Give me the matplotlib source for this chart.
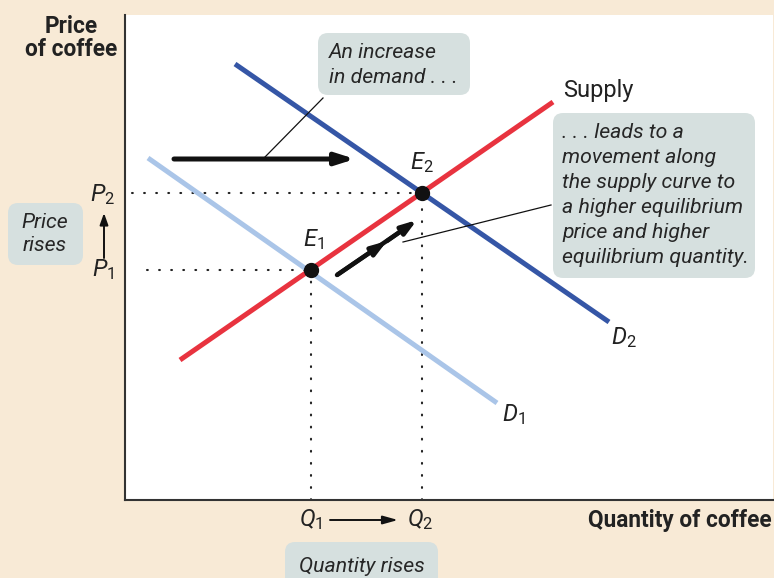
import matplotlib.pyplot as plt
from matplotlib.patches import FancyBboxPatch

plt.rcParams['font.family'] = ['Roboto', 'DejaVu Sans']
plt.rcParams['mathtext.fontset'] = 'custom'
plt.rcParams['mathtext.it'] = 'Roboto:italic'
plt.rcParams['mathtext.rm'] = 'Roboto'

# curves (x, y) end points, in plot units
supply_x = [55, 428]
supply_y = [140, 398]
d1_x = [23, 372]
d1_y = [342, 97]
d2_x = [110, 484]
d2_y = [436, 178]

# equilibria
e1 = (186, 230)
e2 = (297, 307)

# arrows
shift_from, shift_to = (49, 341), (230, 341)
move_start, move_mid, move_end = (212, 225), (262, 259), (292, 280)

bg = '#f8ead6'
box_col = '#d6e0df'
red = '#e8333f'
dark_blue = '#3556a6'
light_blue = '#aac5e8'

fig = plt.figure(figsize=(7.74, 5.78), dpi=100, facecolor=bg)
ax = fig.add_axes([125 / 774, 78 / 578, 648 / 774, 485 / 578])
ax.set_xlim(0, 648)
ax.set_ylim(0, 485)
ax.set_xticks([])
ax.set_yticks([])
for s in ['top', 'right']:
    ax.spines[s].set_visible(False)
for s in ['left', 'bottom']:
    ax.spines[s].set_linewidth(1.5)
    ax.spines[s].set_color('#333333')

# dotted guides
dot = dict(color='#222222', lw=1.5, linestyle=(0, (0.4, 5.4)), dash_capstyle='round')
ax.plot([7, e2[0]], [e2[1], e2[1]], **dot)
ax.plot([22, e1[0]], [e1[1], e1[1]], **dot)
ax.plot([e1[0], e1[0]], [0, e1[1]], **dot)
ax.plot([e2[0], e2[0]], [0, e2[1]], **dot)

ax.plot(d1_x, d1_y, color=light_blue, lw=3.6, solid_capstyle='butt')
ax.plot(d2_x, d2_y, color=dark_blue, lw=3.6, solid_capstyle='butt')
ax.plot(supply_x, supply_y, color=red, lw=3.6, solid_capstyle='butt')

ax.plot(*zip(e1, e2), 'o', color='#111111', ms=10, linestyle='none', zorder=5)

# demand shift arrow
ax.annotate('', xy=shift_to, xytext=shift_from,
            arrowprops=dict(arrowstyle='-|>,head_length=1.1,head_width=0.35',
                            color='#111111', lw=3.6, shrinkA=0, shrinkB=0))
# movement along supply: one shaft, two heads
ax.plot([move_start[0], move_end[0] - 8], [move_start[1], move_end[1] - 5.6],
        color='#111111', lw=3.2, solid_capstyle='butt')
for a, b in [(move_start, move_mid), (move_mid, move_end)]:
    ax.annotate('', xy=b, xytext=a,
                arrowprops=dict(arrowstyle='-|>,head_length=0.9,head_width=0.3',
                                color='#111111', lw=3.2, shrinkA=0, shrinkB=0))

# leader lines
ax.plot([198, 140], [402, 343], color='#111111', lw=0.9)
ax.plot([426, 278], [295, 258], color='#111111', lw=0.9)

def rbox(x0, y0, w, h):
    p = FancyBboxPatch((x0, y0), w, h, boxstyle='round,pad=0,rounding_size=10',
                       fc=box_col, ec='none', clip_on=False, zorder=6)
    ax.add_patch(p)

rbox(193, 405, 152, 62)
rbox(428, 222, 202, 165)
rbox(-117, 235, 75, 62)
rbox(160, -95, 153, 53)

it = dict(style='italic', color='#262626', fontsize=15.3, clip_on=False, zorder=7)
ax.text(204, 435, 'An increase\nin demand . . .', ha='left', va='center', linespacing=1.44, **it)
ax.text(437, 305, '. . . leads to a\nmovement along\nthe supply curve to\na higher equilibrium\nprice and higher\nequilibrium quantity.',
        ha='left', va='center', linespacing=1.41, **it)
ax.text(-80, 266, 'Price\nrises', ha='center', va='center', linespacing=1.29, **it)
ax.text(237, -66, 'Quantity rises', ha='center', va='center', **it)

lab = dict(color='#222222', fontsize=17, clip_on=False)
ax.text(438, 410, 'Supply', ha='left', va='center', **lab)
ax.text(188, 260, r'$E_{\mathrm{1}}$', ha='center', va='center', **lab)
ax.text(297, 337, r'$E_{\mathrm{2}}$', ha='center', va='center', **lab)
ax.text(388, 85, r'$D_{\mathrm{1}}$', ha='center', va='center', **lab)
ax.text(499, 162, r'$D_{\mathrm{2}}$', ha='center', va='center', **lab)
ax.text(-22, 305, r'$P_{\mathrm{2}}$', ha='center', va='center', **lab)
ax.text(-22, 230, r'$P_{\mathrm{1}}$', ha='center', va='center', **lab)
ax.text(186, -20, r'$Q_{\mathrm{1}}$', ha='center', va='center', **lab)
ax.text(295, -20, r'$Q_{\mathrm{2}}$', ha='center', va='center', **lab)

ax.annotate('', xy=(-21, 287), xytext=(-21, 242), annotation_clip=False,
            arrowprops=dict(arrowstyle='-|>,head_length=0.7,head_width=0.25',
                            color='#111111', lw=1.4, shrinkA=0, shrinkB=0))
ax.annotate('', xy=(273, -20), xytext=(205, -20), annotation_clip=False,
            arrowprops=dict(arrowstyle='-|>,head_length=0.9,head_width=0.25',
                            color='#111111', lw=1.4, shrinkA=0, shrinkB=0))

bold = dict(color='#222222', fontsize=16.3, fontweight='bold', clip_on=False)
ax.text(-54, 462, 'Price\nof coffee', ha='center', va='center', linespacing=1.0, **bold)
ax.text(647, -20, 'Quantity of coffee', ha='right', va='center', **bold)

fig.savefig('out.png', dpi=100, facecolor=bg)
